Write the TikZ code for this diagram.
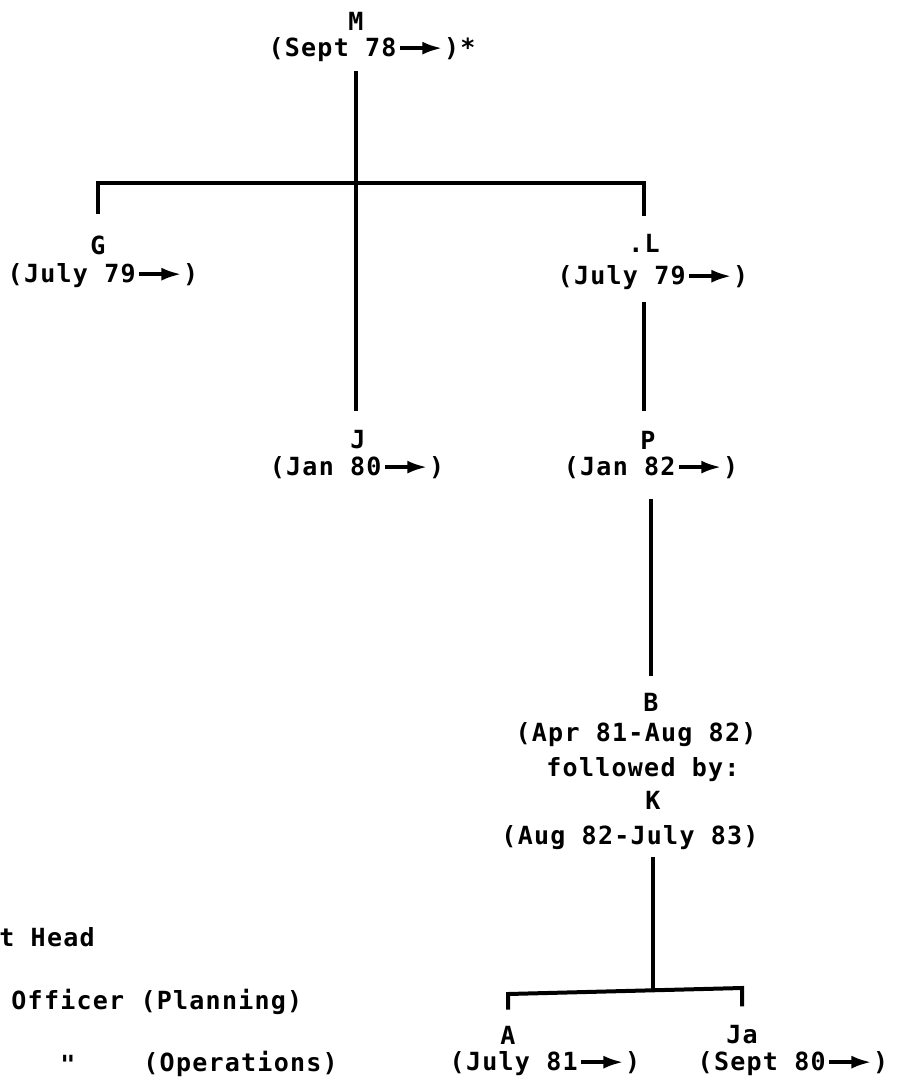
\documentclass[tikz,border=0pt]{standalone}
\usepackage{fontspec}
\setmonofont[LetterSpace=5]{DejaVu Sans Mono}
\usepackage{tikz}
\usetikzlibrary{arrows.meta}
\newcommand{\fwd}{\hspace{1pt}\tikz[baseline=-0.35em]\draw[line width=1.8pt,-{Latex[length=10pt,width=6.5pt]}] (0,0) -- (21pt,0);}

\begin{document}
\begin{tikzpicture}[x=0.5pt,y=-0.5pt,
    font=\ttfamily\bfseries\fontsize{12.5}{14}\selectfont,
    person/.style={inner sep=0pt},
    legend/.style={inner sep=0pt,anchor=west},
    link/.style={line width=2pt}
  ]
    \useasboundingbox (0,0) rectangle (902,1084);

    % names and dates
    \node[person] (M)   at (356,21)  {M};
    \node[person] (Md)  at (372,50)  {(Sept 78\fwd)*};
    \node[person] (G)   at (98,245)  {G};
    \node[person] (Gd)  at (103,276) {(July 79\fwd)};
    \node[person] (L)   at (644,243) {.L};
    \node[person] (Ld)  at (653,278) {(July 79\fwd)};
    \node[person] (J)   at (358,440) {J};
    \node[person] (Jd)  at (357,468) {(Jan 80\fwd)};
    \node[person] (P)   at (648,440) {P};
    \node[person] (Pd)  at (651,468) {(Jan 82\fwd)};
    \node[person] (B)   at (651,702) {B};
    \node[person] (Bd)  at (636,735) {(Apr 81-Aug 82)};
    \node[person] (fol) at (643,770) {followed by:};
    \node[person] (K)   at (653,800) {K};
    \node[person] (Kd)  at (630,838) {(Aug 82-July 83)};
    \node[person] (A)   at (508,1035) {A};
    \node[person] (Ad)  at (545,1064) {(July 81\fwd)};
    \node[person] (Ja)  at (742,1035) {Ja};
    \node[person] (Jad) at (793,1064) {(Sept 80\fwd)};

    % key
    \node[legend] (head) at (-1,937)  {t Head};
    \node[legend] (plan) at (11,1002) {Officer (Planning)};
    \node[person] (ditto) at (68,1064) {"};
    \node[legend] (oper) at (143,1064) {(Operations)};

    \coordinate (hub)  at (356,183);
    \coordinate (khub) at (653,990);
    \coordinate (abar) at (505,994);
    \coordinate (jbar) at (745,988);

    \draw[link,shorten <=4.5pt,shorten >=9.5pt] (M |- Md.south) -- (M |- J.north);
    \draw[link,shorten <=10.5pt,shorten >=8.5pt] (G.north) -- (G.north |- hub) -- (L.north |- hub) -- (L.north);
    \draw[link,shorten <=6pt,shorten >=9.5pt] (L |- Ld.south) -- (L |- P.north);
    \draw[link,shorten <=9.5pt,shorten >=8pt] (B |- Pd.south) -- (B.north);
    \draw[link,shorten <=3.5pt] (K |- Kd.south) -- (khub);
    \draw[link,shorten <=8pt,shorten >=9.5pt] (A.north) -- (A.north |- abar) -- (Ja.north |- jbar) -- (Ja.north);
\end{tikzpicture}
\end{document}
